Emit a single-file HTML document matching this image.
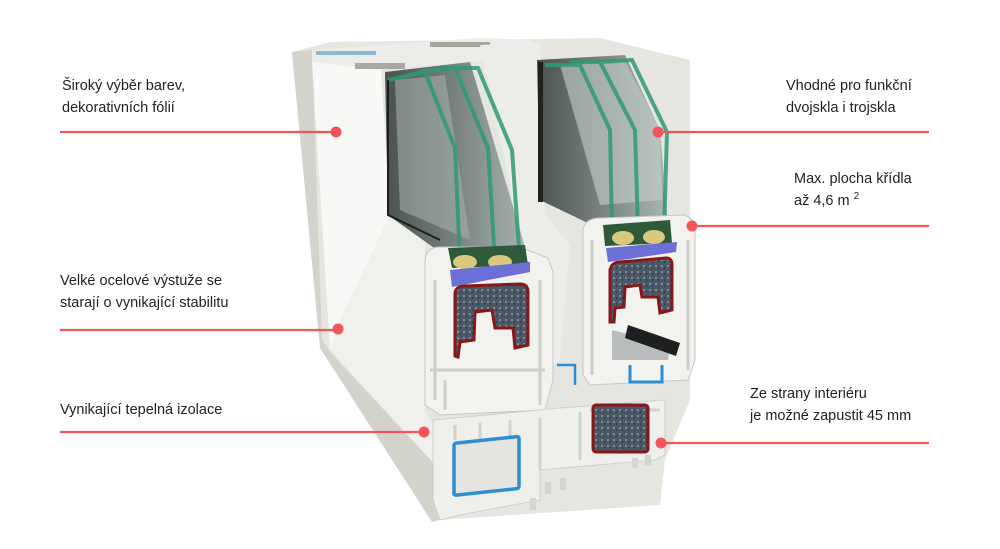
<!DOCTYPE html>
<html><head><meta charset="utf-8"><style>
html,body{margin:0;padding:0;background:#fff;}
body{width:1000px;height:549px;position:relative;overflow:hidden;font-family:"Liberation Sans",sans-serif;}
.t{position:absolute;font-size:14.5px;line-height:22px;color:#222;white-space:nowrap;}
</style></head><body>
<svg width="1000" height="549" style="position:absolute;left:0;top:0">
<defs>
<linearGradient id="gl" x1="0" x2="1"><stop offset="0" stop-color="#4a5250"/><stop offset="1" stop-color="#aab5b2"/></linearGradient>
<pattern id="st" width="6" height="6" patternUnits="userSpaceOnUse"><rect width="6" height="6" fill="#4b5868"/><rect x="1" y="1" width="2" height="2" fill="#7e8a98"/><rect x="4" y="3" width="1" height="2" fill="#2f3a48"/></pattern>
</defs>
<!-- outer frame back -->
<polygon points="292,52 330,42 600,38 690,60 690,230 690,400 665,460 660,505 440,520 430,500 320,345" fill="#e6e6e1"/>
<polygon points="292,52 312,50 322,340 330,352 440,470 440,520 432,522 320,348" fill="#d3d3cc"/>
<polygon points="312,60 380,55 390,215 340,320 330,350" fill="#f8f8f6"/>
<polygon points="330,350 340,320 390,215 425,215 425,410 440,440 440,470" fill="#f0f0ed"/>
<!-- top area details -->
<polygon points="312,50 480,38 530,40 540,55 380,70 312,62" fill="#ecece8"/>
<rect x="316" y="51" width="60" height="4" fill="#8fb8d8"/>
<rect x="355" y="63" width="50" height="6" fill="#a7a7a3"/>
<rect x="430" y="42" width="60" height="5" fill="#a5a5a0"/>
<!-- middle white column -->
<polygon points="480,45 540,42 545,215 570,245 560,360 540,380 520,230" fill="#ececE8"/>
<!-- left glass area -->
<polygon points="385,72 470,62 520,230 530,265 460,265 430,245 388,215" fill="url(#gl)"/>
<polygon points="395,80 445,75 470,240 400,210" fill="#a8b2b0" opacity=".55"/>
<g fill="none" stroke="#2f9a74" stroke-width="4" opacity=".85">
<path d="M388,80 L425,72 L455,148 L460,262"/>
<path d="M418,72 L455,68 L488,148 L495,262"/>
<path d="M440,68 L478,68 L512,150 L520,262"/>
</g>
<g fill="none" stroke="#1a1f1e" stroke-width="2"><path d="M388,80 L388,215 L440,240"/></g>
<!-- right glass area -->
<polygon points="537,60 625,55 660,130 668,225 598,228 540,200" fill="url(#gl)"/>
<polygon points="560,65 625,60 660,130 662,200 600,205" fill="#c4d0cc" opacity=".6"/>
<g fill="none" stroke="#2f9a74" stroke-width="4" opacity=".85">
<path d="M545,65 L580,65 L610,130 L612,232"/>
<path d="M570,62 L600,62 L635,130 L638,232"/>
<path d="M600,62 L632,60 L667,132 L664,232"/>
</g>
<rect x="538" y="62" width="5" height="140" fill="#1d2221"/>
<!-- left sash -->
<path d="M425,262 Q425,247 440,247 L520,247 L548,258 L553,272 L553,380 L545,410 L440,415 L425,405 Z" fill="#f2f2ef" stroke="#c7c7c1" stroke-width="1"/>
<polygon points="448,248 525,245 528,265 452,268" fill="#2f5a3a"/>
<ellipse cx="465" cy="262" rx="12" ry="7" fill="#d8c97e"/><ellipse cx="500" cy="262" rx="12" ry="7" fill="#d8c97e"/>
<polygon points="450,270 530,262 530,272 452,287" fill="#6c6fd6"/>
<path d="M455,293 Q456,286 465,286 L520,284 Q528,284 528,292 L528,345 L515,348 L513,328 L495,328 L492,310 L475,312 L474,340 L460,342 L458,357 L455,356 Z" fill="url(#st)" stroke="#8a1717" stroke-width="3"/>
<g fill="none" stroke="#cfcfca" stroke-width="3"><path d="M435,280 V400 M540,280 V405 M430,370 H545 M445,380 V410"/></g>
<!-- right sash -->
<path d="M583,230 Q585,218 600,218 L685,215 L695,222 L695,360 L688,380 L590,385 L583,375 Z" fill="#f2f2ef" stroke="#c7c7c1" stroke-width="1"/>
<polygon points="603,225 670,220 672,243 605,246" fill="#2f5a3a"/>
<ellipse cx="623" cy="238" rx="11" ry="7" fill="#d8c97e"/><ellipse cx="654" cy="237" rx="11" ry="7" fill="#d8c97e"/>
<polygon points="606,248 677,242 676,252 608,262" fill="#6c6fd6"/>
<path d="M610,270 Q612,262 620,262 L666,258 Q672,258 672,265 L672,310 L660,313 L658,297 L642,297 L640,285 L625,287 L624,307 L615,308 L614,322 L610,322 Z" fill="url(#st)" stroke="#8a1717" stroke-width="3"/>
<polygon points="612,330 670,345 668,360 612,360" fill="#b9bcbd"/>
<polygon points="628,325 680,343 676,356 625,338" fill="#1e1f21"/>
<path d="M630,365 V382 H662 V365" fill="none" stroke="#2d8ed2" stroke-width="3"/>
<path d="M557,365 H575 V385" fill="none" stroke="#2d8ed2" stroke-width="2.5"/>
<g fill="none" stroke="#cfcfca" stroke-width="3"><path d="M592,240 V375 M688,240 V370"/></g>
<!-- bottom frame -->
<polygon points="433,420 560,408 665,400 665,455 655,460 540,470 540,500 460,515 440,520 433,500" fill="#efefec" stroke="#cfcfc9"/>
<g fill="none" stroke="#d3d3cd" stroke-width="3"><path d="M455,425 V440 M480,423 V440 M510,420 V440 M540,418 V470 M580,412 V460 M590,410 H660"/></g>
<rect x="454" y="441" width="65" height="52" rx="2" fill="#e4e4e0" stroke="#2d8ed2" stroke-width="3.5" transform="skewY(-6) translate(0,50)"/>
<rect x="593" y="405" width="55" height="47" rx="3" fill="url(#st)" stroke="#8a1717" stroke-width="3"/>
<g fill="#d5d5cf"><rect x="530" y="498" width="6" height="12"/><rect x="545" y="482" width="6" height="12"/><rect x="560" y="478" width="6" height="12"/><rect x="632" y="458" width="6" height="10"/><rect x="645" y="455" width="6" height="10"/></g>
<!-- connectors -->
<g stroke="#f2565b" stroke-width="2.2" fill="#f2565b">
<line x1="60" y1="132" x2="336" y2="132"/><circle cx="336" cy="132" r="5.5" stroke="none"/>
<line x1="60" y1="330" x2="338" y2="330"/><circle cx="338" cy="329" r="5.5" stroke="none"/>
<line x1="60" y1="432" x2="424" y2="432"/><circle cx="424" cy="432" r="5.5" stroke="none"/>
<line x1="658" y1="132" x2="929" y2="132"/><circle cx="658" cy="132" r="5.5" stroke="none"/>
<line x1="692" y1="226" x2="929" y2="226"/><circle cx="692" cy="226" r="5.5" stroke="none"/>
<line x1="661" y1="443" x2="929" y2="443"/><circle cx="661" cy="443" r="5.5" stroke="none"/>
</g>
</svg>
<div class="t" style="left:62px;top:75px">Široký výběr barev,<br>dekorativních fólií</div>
<div class="t" style="left:60px;top:270px">Velké ocelové výstuže se<br>starají o vynikající stabilitu</div>
<div class="t" style="left:60px;top:399px">Vynikající tepelná izolace</div>
<div class="t" style="left:786px;top:75px">Vhodné pro funkční<br>dvojskla i trojskla</div>
<div class="t" style="left:794px;top:168px">Max. plocha křídla<br>až 4,6 m <sup style="font-size:10px;vertical-align:6px;line-height:0">2</sup></div>
<div class="t" style="left:750px;top:383px">Ze strany interiéru<br>je možné zapustit 45 mm</div>
</body></html>
